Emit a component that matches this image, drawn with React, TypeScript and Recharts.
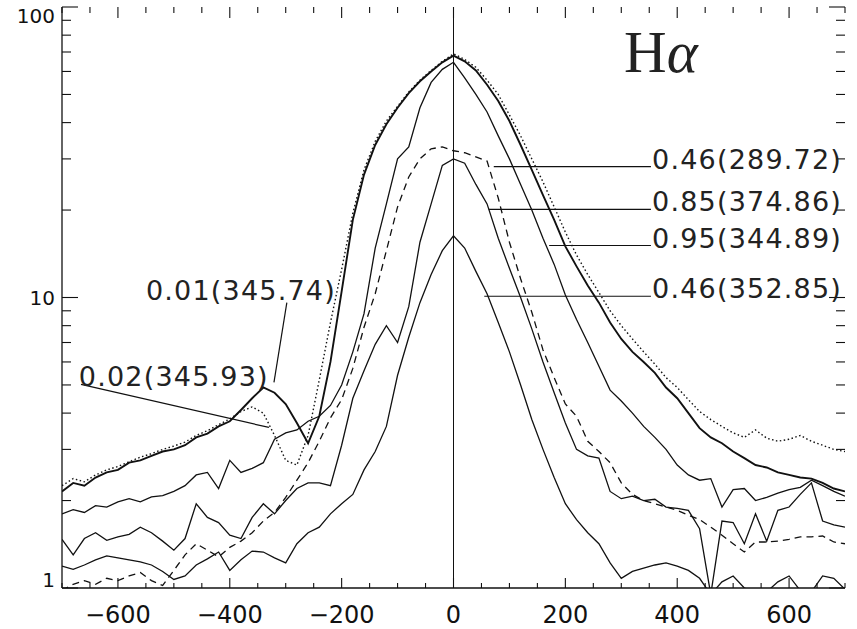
import { LineChart, Line, XAxis, YAxis, ReferenceLine, ReferenceDot } from "recharts";

// velocity grid (km/s)
const xs = [
  -700, -680, -660, -640, -620, -600, -580, -560, -540, -520, -500, -480, -460, -440, -420, -400,
  -380, -360, -340, -320, -300, -280, -260, -240, -220, -200, -180, -160, -140, -120, -100, -80,
  -60, -40, -20, 0, 20, 40, 60, 80, 100, 120, 140, 160, 180, 200, 220, 240, 260, 280, 300, 320,
  340, 360, 380, 400, 420, 440, 460, 480, 500, 520, 540, 560, 580, 600, 620, 640, 660, 680, 700,
];

// 0.01(345.74) – bold solid
const p001 = [
  2.15, 2.3, 2.25, 2.4, 2.5, 2.55, 2.7, 2.75, 2.85, 2.95, 3.0, 3.1, 3.3, 3.4, 3.6, 3.75,
  4.1, 4.5, 4.9, 4.7, 4.3, 3.7, 3.15, 3.9, 6.0, 10.5, 18.5, 26.5, 33.5, 39.5, 45, 50.5,
  55.5, 60, 64.5, 68, 65, 60.5, 54, 47.5, 40.5, 33.5, 27.5, 22.5, 18.5, 15, 12.8, 11, 9.6, 8.2, 7.2, 6.5,
  6.0, 5.5, 4.9, 4.5, 4.0, 3.55, 3.3, 3.15, 2.95, 2.8, 2.65, 2.6, 2.5, 2.45, 2.4, 2.38, 2.3, 2.2, 2.15,
];

// 0.02(345.93) – dotted
const p002 = [
  2.25, 2.38, 2.32, 2.45, 2.55, 2.62, 2.72, 2.82, 2.9, 3.0, 3.08, 3.18, 3.35, 3.48, 3.65, 3.82,
  4.05, 4.2, 4.0, 3.35, 2.75, 2.65, 3.35, 5.2, 8.2, 12.5, 19.5, 27.5, 34.5, 40.5, 45.5, 51,
  56, 60.5, 65, 69, 66, 62, 56, 50, 42.5, 36, 30, 25, 20.5, 16.8, 14, 12, 10.4, 9.0, 8.0, 7.2,
  6.5, 5.9, 5.3, 4.9, 4.45, 4.05, 3.8, 3.6, 3.42, 3.3, 3.5, 3.28, 3.2, 3.25, 3.35, 3.2, 3.1, 3.0, 2.95,
];

// 0.95(344.89) – solid
const p095 = [
  1.8, 1.86, 1.82, 1.92, 1.9, 1.98, 2.03, 1.98, 2.06, 2.08, 2.15, 2.25, 2.45, 2.5, 2.2, 2.75,
  2.5, 2.58, 2.7, 3.25, 3.42, 3.5, 3.75, 3.9, 4.25, 5.0, 6.5, 8.8, 14.8, 21, 30, 33,
  45, 55, 61, 64.5, 57, 50, 43.5, 36, 30, 24.5, 20, 16, 13, 10.2, 8.4, 7, 5.8, 4.8, 4.4, 4.0,
  3.6, 3.3, 3.0, 2.65, 2.45, 2.35, 2.38, 1.9, 2.18, 2.2, 2.0, 2.05, 2.12, 2.18, 2.22, 2.35, 2.25, 2.15, 2.07,
];

// 0.85(374.86) – solid
const p085 = [
  1.47, 1.3, 1.48, 1.55, 1.46, 1.5, 1.53, 1.62, 1.55, 1.45, 1.35, 1.48, 1.95, 1.75, 1.68, 1.52,
  1.48, 1.75, 1.95, 1.8, 2.0, 2.2, 2.3, 2.3, 2.25, 3.1, 4.5, 5.6, 6.9, 8.0, 7.0, 9.3,
  15.5, 21, 28.5, 30, 29, 24.5, 21, 16, 12.6, 10, 7.8, 6.0, 4.7, 3.7, 3.0, 2.85, 2.8, 2.15, 2.03, 2.07,
  2.0, 2.02, 1.9, 1.88, 1.85, 1.6, 0.95, 1.7, 1.68, 1.42, 1.8, 1.45, 1.85, 1.9, 2.1, 2.3, 1.7, 1.65, 1.62,
];

// 0.46(289.72) – dashed
const p046a = [
  0.98, 1.03, 1.06, 1.03, 1.08, 1.06, 1.1, 1.13, 1.06, 1.02, 1.15, 1.3, 1.42, 1.35, 1.28, 1.38,
  1.45, 1.55, 1.7, 1.82, 2.05, 2.35, 2.7, 3.2, 3.85, 4.45, 5.7, 7.9, 10.3, 14.5, 20.5, 26,
  30, 32.5, 33, 32, 31.5, 30.5, 29.5, 22, 15.5, 11.6, 8.9, 6.6, 5.3, 4.3, 3.9, 3.2, 2.95, 2.7, 2.3, 2.1,
  2.0, 1.95, 1.9, 1.85, 1.78, 1.72, 1.62, 1.52, 1.42, 1.33, 1.44, 1.44, 1.45, 1.47, 1.5, 1.5, 1.51, 1.44, 1.42,
];

// 0.46(352.85) – lowest solid
const p046b = [
  1.19, 1.16, 1.2, 1.25, 1.29, 1.27, 1.25, 1.23, 1.2, 1.14, 1.07, 1.1, 1.2, 1.26, 1.33, 1.15,
  1.25, 1.34, 1.33, 1.27, 1.22, 1.42, 1.55, 1.62, 1.8, 1.95, 2.1, 2.55, 2.95, 3.6, 5.4, 7.3,
  9.6, 12, 14.5, 16.3, 14.8, 12.3, 10.3, 8.2, 6.5, 5.0, 3.8, 3.0, 2.4, 1.95, 1.72, 1.55, 1.42, 1.22, 1.08, 1.14,
  1.17, 1.2, 1.22, 1.19, 1.15, 1.08, 0.95, 1.05, 1.1, 1.0, 0.97, 0.97, 1.05, 1.1, 0.98, 0.97, 1.1, 1.08, 0.99,
];

const xTicks = [
  -700, -650, -600, -550, -500, -450, -400, -350, -300, -250, -200, -150, -100, -50, 0,
  50, 100, 150, 200, 250, 300, 350, 400, 450, 500, 550, 600, 650, 700,
];
const xLabels = [-600, -400, -200, 0, 200, 400, 600];
const yTicks = [1, 2, 3, 4, 5, 6, 7, 8, 9, 10, 20, 30, 40, 50, 60, 70, 80, 90, 100];
const yLabels = [1, 10, 100];

// label text, where the text starts (data units) and its leader line
const notes = [
  { text: "0.46(289.72)", at: [355, 28.2], from: [72, 28.2], to: [353, 28.2] },
  { text: "0.85(374.86)", at: [355, 20.1], from: [63, 20.1], to: [353, 20.1] },
  { text: "0.95(344.89)", at: [355, 15.1], from: [171, 15.1], to: [353, 15.1] },
  { text: "0.46(352.85)", at: [355, 10.1], from: [55, 10.1], to: [353, 10.1] },
  { text: "0.01(345.74)", at: [-550, 10], from: [-298, 9.6], to: [-321, 5.1] },
  { text: "0.02(345.93)", at: [-670, 5.02], from: [-666, 5.02], to: [-330, 3.57] },
];

const rows = xs.map((x, i) => ({
  x,
  a: p001[i],
  b: p002[i],
  c: p095[i],
  d: p085[i],
  e: p046a[i],
  f: p046b[i],
}));

const ink = "#111";
const sans = "'DejaVu Sans', sans-serif";

// plot box size in px, used to turn tick lengths into data units
const PLOT_W = 783;
const PLOT_H = 581;
const xLen = (px: number) => (px * 1400) / PLOT_W;
const yFac = (px: number) => Math.pow(10, (px * 2) / PLOT_H);

const fmt = (v: number) => String(v).replace("-", "\u2212");

// inward tick marks for all four sides
const tickSegs: { x1: number; y1: number; x2: number; y2: number }[] = [];
xTicks.forEach((t) => {
  const major = xLabels.includes(t);
  tickSegs.push({ x1: t, y1: 1, x2: t, y2: yFac(major ? 10 : 5) });
  tickSegs.push({ x1: t, y1: 100, x2: t, y2: 100 / yFac(major ? 11 : 6) });
});
yTicks.forEach((t) => {
  const major = yLabels.includes(t);
  const len = major ? 16 : 9;
  tickSegs.push({ x1: -700, y1: t, x2: -700 + xLen(len), y2: t });
  tickSegs.push({ x1: 700, y1: t, x2: 700 - xLen(len), y2: t });
});

function BottomLabel(props: any) {
  const { x, y, payload } = props;
  if (!xLabels.includes(payload.value)) return <g />;
  return (
    <text x={x} y={y + 35} textAnchor="middle" fontFamily={sans} fontSize={24} fill={ink}>
      {fmt(payload.value)}
    </text>
  );
}

function LeftLabel(props: any) {
  const { x, y, payload } = props;
  const v = payload.value;
  if (!yLabels.includes(v)) return <g />;
  const dy = v === 100 ? 16 : v === 1 ? -1 : 7;
  return (
    <text x={x - 7} y={y + dy} textAnchor="end" fontFamily={sans} fontSize={20} fill={ink}>
      {v}
    </text>
  );
}

export default function App() {
  return (
    <div style={{ position: "absolute", left: 0, top: 0, background: "#fff" }}>
      <LineChart width={857} height={629} data={rows} margin={{ top: 7, right: 12, bottom: 0, left: 0 }}>
        <XAxis
          dataKey="x"
          type="number"
          domain={[-700, 700]}
          ticks={xLabels}
          interval={0}
          allowDataOverflow
          height={41}
          tickLine={false}
          tickSize={0}
          tickMargin={0}
          axisLine={{ stroke: ink, strokeWidth: 1.3 }}
          tick={(p: any) => <BottomLabel {...p} />}
        />
        <XAxis
          xAxisId="top"
          orientation="top"
          dataKey="x"
          type="number"
          domain={[-700, 700]}
          allowDataOverflow
          height={0}
          tickLine={false}
          tick={false}
          axisLine={{ stroke: ink, strokeWidth: 1.3 }}
        />
        <YAxis
          type="number"
          scale="log"
          domain={[1, 100]}
          ticks={yLabels}
          interval={0}
          allowDataOverflow
          width={62}
          tickLine={false}
          tickSize={0}
          tickMargin={0}
          axisLine={{ stroke: ink, strokeWidth: 1.3 }}
          tick={(p: any) => <LeftLabel {...p} />}
        />
        <YAxis
          yAxisId="right"
          orientation="right"
          type="number"
          scale="log"
          domain={[1, 100]}
          allowDataOverflow
          width={0}
          tickLine={false}
          tick={false}
          axisLine={{ stroke: ink, strokeWidth: 1.3 }}
        />

        {tickSegs.map((s, i) => (
          <ReferenceLine
            key={"tk" + i}
            segment={[
              { x: s.x1, y: s.y1 },
              { x: s.x2, y: s.y2 },
            ]}
            stroke={ink}
            strokeWidth={1.1}
            ifOverflow="visible"
          />
        ))}

        <ReferenceLine x={0} stroke={ink} strokeWidth={1} />

        <Line type="linear" dataKey="f" stroke={ink} strokeWidth={1.3} dot={false} isAnimationActive={false} />
        <Line type="linear" dataKey="e" stroke={ink} strokeWidth={1.3} strokeDasharray="7 5" dot={false} isAnimationActive={false} />
        <Line type="linear" dataKey="d" stroke={ink} strokeWidth={1.3} dot={false} isAnimationActive={false} />
        <Line type="linear" dataKey="c" stroke={ink} strokeWidth={1.3} dot={false} isAnimationActive={false} />
        <Line type="linear" dataKey="b" stroke={ink} strokeWidth={1.4} strokeDasharray="1.5 2.5" dot={false} isAnimationActive={false} />
        <Line type="linear" dataKey="a" stroke={ink} strokeWidth={1.9} dot={false} isAnimationActive={false} />

        {notes.map((n) => (
          <ReferenceLine
            key={"l" + n.text}
            segment={[
              { x: n.from[0], y: n.from[1] },
              { x: n.to[0], y: n.to[1] },
            ]}
            stroke={ink}
            strokeWidth={1.2}
            ifOverflow="visible"
          />
        ))}
        {notes.map((n) => (
          <ReferenceDot
            key={"t" + n.text}
            x={n.at[0]}
            y={n.at[1]}
            r={0}
            ifOverflow="visible"
            shape={(p: any) => (
              <text x={p.cx} y={p.cy + 2} fontFamily={sans} fontSize={27} letterSpacing={1.2} fill="#222">
                {n.text}
              </text>
            )}
          />
        ))}
        <ReferenceDot
          x={305}
          y={59.8}
          r={0}
          ifOverflow="visible"
          shape={(p: any) => (
            <text x={p.cx} y={p.cy} fontFamily="'Liberation Serif', serif" fontSize={59} fill="#222">
              H<tspan fontStyle="italic">α</tspan>
            </text>
          )}
        />
      </LineChart>
    </div>
  );
}
